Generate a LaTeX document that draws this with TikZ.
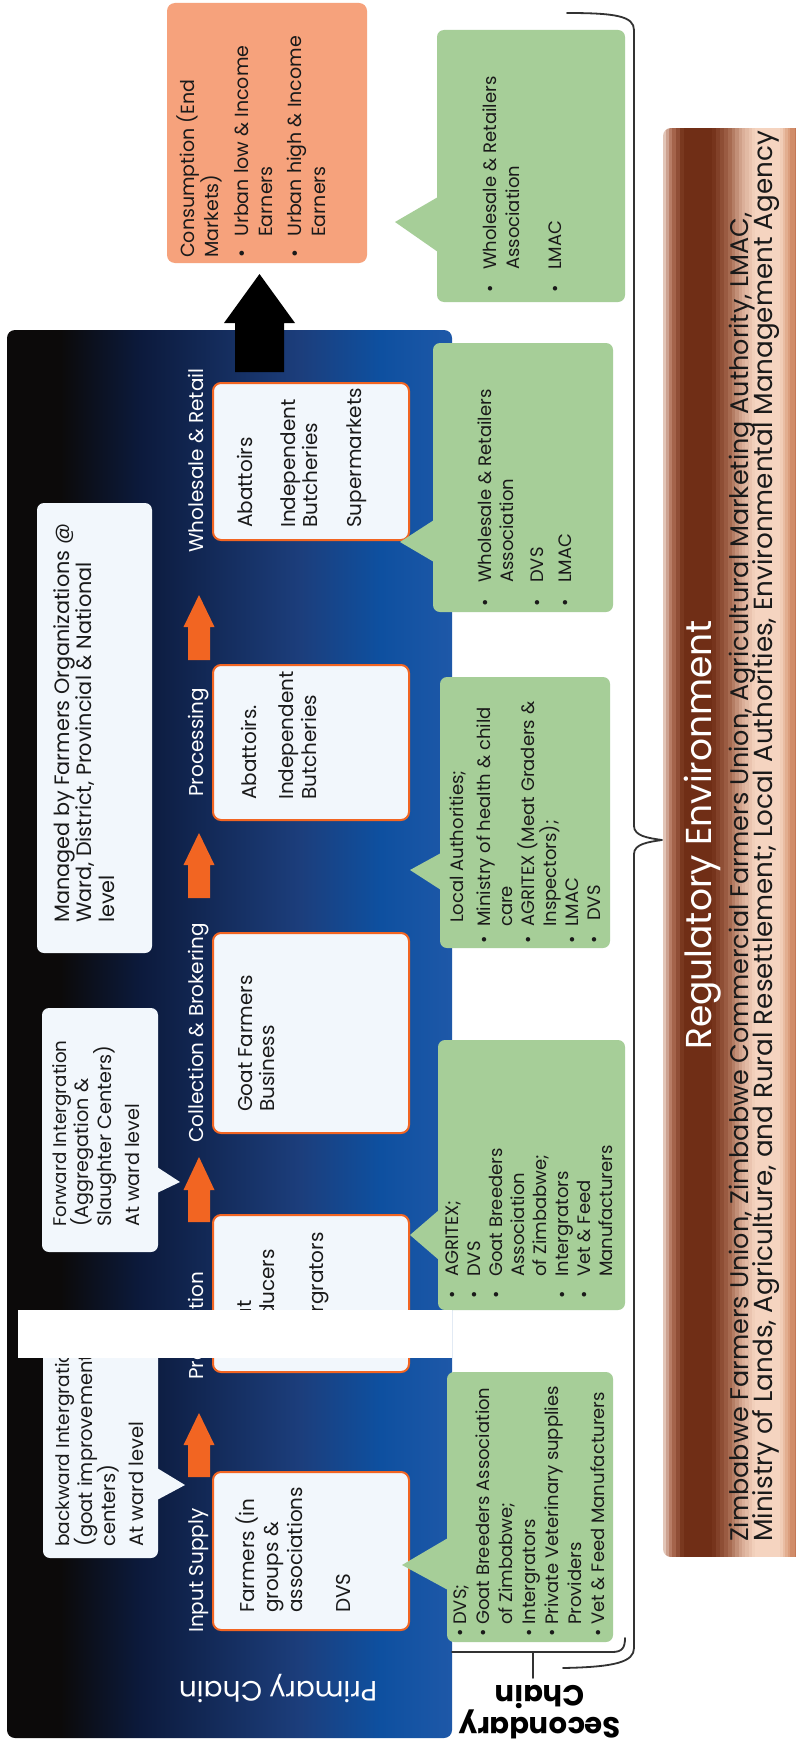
\documentclass[tikz,border=0pt]{standalone}
\usepackage{fontspec}
\setmainfont{Poppins}
\definecolor{salmonC}{RGB}{246,162,124}
\definecolor{greenC}{RGB}{166,206,152}
\definecolor{boxC}{RGB}{242,247,252}
\definecolor{orangeC}{RGB}{242,101,34}
\definecolor{inkC}{RGB}{26,26,26}
\definecolor{braceC}{RGB}{50,50,50}
\definecolor{bk}{RGB}{12,10,10}
\definecolor{bn}{RGB}{12,26,60}
\definecolor{bm}{RGB}{28,62,124}
\definecolor{bb}{RGB}{14,80,160}
\definecolor{be}{RGB}{30,88,168}
\definecolor{rA}{RGB}{235,212,200}
\definecolor{rB}{RGB}{175,110,85}
\definecolor{rC}{RGB}{112,46,22}
\definecolor{rE}{RGB}{160,98,72}
\definecolor{rF}{RGB}{215,170,148}
\definecolor{rG}{RGB}{245,212,192}
\definecolor{rI}{RGB}{215,150,115}
\definecolor{rJ}{RGB}{190,110,75}
\pgfdeclarehorizontalshading{bandshade}{100bp}{color(0bp)=(bk); color(25bp)=(bk); color(31bp)=(bk); color(40bp)=(bn); color(58bp)=(bm); color(67bp)=(bb); color(75bp)=(be); color(100bp)=(be)}
\newcommand{\fs}[2]{\fontsize{#1}{#2}\selectfont}
\newcommand{\tb}[1]{\vtop{\lineskiplimit=-1000pt\lineskip=0pt\halign{##\hfil\cr#1\crcr}}}
\newcommand{\gap}[1]{\noalign{\vskip #1pt}}
\newcommand{\bl}[1]{\makebox[#1pt][l]{\textbullet}}
\newcommand{\ind}[1]{\hspace*{#1pt}}
\begin{document}
\begin{tikzpicture}[x=1pt,y=-1pt,
  wbox/.style={draw=orangeC, line width=2pt, fill=boxC, rounded corners=8pt, inner sep=0pt, minimum width=196pt},
  gfill/.style={fill=greenC, rounded corners=7pt},
  wfill/.style={fill=boxC, rounded corners=7pt},
  tx/.style={rotate=90, anchor=base west, inner sep=0pt, text=inkC},
  stage/.style={rotate=90, anchor=base west, inner sep=0pt, text=white, font=\fs{20}{24}},
  brace/.style={draw=braceC, line width=1.8pt, line cap=round, line join=round}]
\useasboundingbox (0,0) rectangle (795,1742);
\fill[white] (0,0) rectangle (795,1742);

% regulatory bar: solid strips forming the copper gradient
\begin{scope}
\clip[rounded corners=8pt] (663,128) rectangle (810,1557);
\fill[rB!15!rA] (663,128) rectangle (666.4,1557);
\fill[rB!50!rA] (666,128) rectangle (669.4,1557);
\fill[rB!85!rA] (669,128) rectangle (672.4,1557);
\fill[rC!15!rB] (672,128) rectangle (676.4,1557);
\fill[rC!50!rB] (676,128) rectangle (680.4,1557);
\fill[rC!85!rB] (680,128) rectangle (684.4,1557);
\fill[rC] (684,128) rectangle (712.4,1557);
\fill[rE!12!rC] (712,128) rectangle (716.4,1557);
\fill[rE!37!rC] (716,128) rectangle (720.4,1557);
\fill[rE!62!rC] (720,128) rectangle (724.4,1557);
\fill[rE!87!rC] (724,128) rectangle (728.4,1557);
\fill[rF!12!rE] (728,128) rectangle (731.9,1557);
\fill[rF!37!rE] (731.5,128) rectangle (735.4,1557);
\fill[rF!62!rE] (735,128) rectangle (738.9,1557);
\fill[rF!87!rE] (738.5,128) rectangle (742.4,1557);
\fill[rG!12!rF] (742,128) rectangle (745.65,1557);
\fill[rG!37!rF] (745.25,128) rectangle (748.9,1557);
\fill[rG!62!rF] (748.5,128) rectangle (752.15,1557);
\fill[rG!87!rF] (751.75,128) rectangle (755.4,1557);
\fill[rG] (755,128) rectangle (780.4,1557);
\fill[rI!12!rG] (780,128) rectangle (782.9,1557);
\fill[rI!37!rG] (782.5,128) rectangle (785.4,1557);
\fill[rI!62!rG] (785,128) rectangle (787.9,1557);
\fill[rI!87!rG] (787.5,128) rectangle (790.4,1557);
\fill[rJ!25!rI] (790,128) rectangle (795.4,1557);
\fill[rJ!75!rI] (795,128) rectangle (810,1557);
\end{scope}
\node[rotate=90, anchor=base west, inner sep=0pt, text=white, font=\fs{36}{40}] (regt) at (711,1050) {Regulatory Environment};
\node[tx, font=\fs{25.5}{24}] (regl) at (748,1542) {\tb{Zimbabwe Farmers Union, Zimbabwe Commercial Farmers Union, Agricultural Marketing Authority, LMAC,\cr \fs{26.2}{24}Ministry of Lands, Agriculture, and Rural Resettlement; Local Authorities, Environmental Management Agency}};

% primary chain band
\shade[shading=bandshade, rounded corners=8pt] (7,330) rectangle (452,1738);

% consumption
\node[fill=salmonC, rounded corners=8pt, inner sep=0pt, minimum width=200pt, minimum height=260pt] (cons) at (267,133) {};
\node[tx, font=\fs{19}{24}] (tcons) at (194,258) {\tb{Consumption (End\cr Markets)\cr\gap{6}\bl{21}Urban low \& Income\cr\ind{21}Earners\cr\gap{5}\bl{21}Urban high \& Income\cr\ind{21}Earners}};
\fill[black] (235,372) -- (284,372) -- (284,323) -- (295,323) -- (259.5,274) -- (224,323) -- (235,323) -- cycle;

% stage boxes
\node[wbox, minimum height=157pt] (bWR) at (311,461.5) {};
\node[wbox, minimum height=155pt] (bPR) at (311,742.5) {};
\node[wbox, minimum height=200pt] (bCB) at (311,1033) {};
\node[wbox, minimum height=157pt] (bPD) at (311,1293.5) {};
\node[wbox, minimum height=158pt] (bIS) at (311,1551) {};

\node[tx, font=\fs{20}{22}] (tWR) at (252,528) {\tb{Abattoirs\cr\gap{21}Independent\cr Butcheries\cr\gap{22}Supermarkets}};
\node[tx, font=\fs{20}{23}] (tPR) at (256,800) {\tb{Abattoirs.\cr\gap{14}Independent\cr Butcheries}};
\node[tx, font=\fs{20}{22}] (tCB) at (252,1112) {\tb{Goat Farmers\cr Business}};
\node[tx, font=\fs{20}{23}] (tPD) at (251,1350) {\tb{Goat\cr Producers\cr\gap{26}Intergrators}};
\node[tx, font=\fs{20}{24}] (tIS) at (254,1613) {\tb{Farmers (in\cr groups \&\cr associations\cr\gap{24}DVS}};

% stage labels
\node[stage] (sWR) at (203,553) {Wholesale \& Retail};
\node[stage] (sPR) at (203,797) {Processing};
\node[stage] (sCB) at (203,1143) {Collection \& Brokering};
\node[stage] (sPD) at (203,1380) {Production};
\node[stage] (sIS) at (203,1633) {Input Supply};

% orange arrows
\foreach \b/\h/\t in {660/627/595, 898/865/833, 1222/1190/1157, 1477/1445/1413}
  \fill[orangeC] (188,\b) -- (210,\b) -- (210,\h) -- (214.5,\h) -- (199,\t) -- (183.5,\h) -- (188,\h) -- cycle;

% white callouts
\fill[wfill] (37,503) rectangle (152,953);
\node[tx, font=\fs{20.8}{22.5}] (tMG) at (69,923) {\tb{Managed by Farmers Organizations @\cr Ward, District, Provincial \& National\cr level}};
\fill[wfill] (42,1008) rectangle (158,1252);
\fill[boxC] (157,1167) -- (180,1182) -- (157,1193) -- cycle;
\node[tx, font=\fs{19.2}{22.5}] (tFW) at (66,1227) {\tb{\fs{18.3}{22.5}Forward Intergration\cr (Aggregation \&\cr Slaughter Centers)\cr\gap{6}At ward level}};
\fill[wfill] (43,1315) rectangle (158,1558);
\fill[boxC] (157,1468) -- (185,1485) -- (157,1500) -- cycle;
\node[tx, font=\fs{19.5}{23}] (tBW) at (69,1547) {\tb{\fs{18.6}{23}backward Intergration\cr (goat improvement\cr centers)\cr\gap{5}At ward level}};

% green callouts
\fill[gfill] (437,30) rectangle (625,302);
\fill[greenC] (438,197) -- (395,222) -- (438,252) -- cycle;
\node[tx, font=\fs{18}{23}] (gCO) at (496,293) {\tb{\bl{23}Wholesale \& Retailers\cr\ind{23}Association\cr\gap{19}\bl{23}LMAC}};

\fill[gfill] (433,343) rectangle (613,612);
\fill[greenC] (434,520) -- (400,542) -- (434,562) -- cycle;
\node[tx, font=\fs{18}{22}] (gWR) at (491,607) {\tb{\bl{24}Wholesale \& Retailers\cr\ind{24}Association\cr\gap{8}\bl{24}DVS\cr\gap{6}\bl{24}LMAC}};

\fill[gfill] (440,677) rectangle (610,948);
\fill[greenC] (441,853) -- (410,870) -- (441,890) -- cycle;
\node[tx, font=\fs{18}{22}] (gPR) at (463,944) {\tb{\ind{21}Local Authorities;\cr\gap{5}\bl{17}Ministry of health \& child\cr\ind{17}care\cr\bl{17}AGRITEX (Meat Graders \&\cr\ind{17}Inspectors);\cr\bl{17}LMAC\cr\bl{17}\ind{6}DVS}};

\fill[gfill] (438,1040) rectangle (625,1310);
\fill[greenC] (439,1210) -- (410,1235) -- (439,1260) -- cycle;
\node[tx, font=\fs{18}{22}] (gCB) at (458,1299) {\tb{\bl{22}AGRITEX;\cr\bl{22}DVS\cr\bl{22}Goat Breeders\cr\ind{22}Association\cr\ind{22}of Zimbabwe;\cr\bl{22}Intergrators\cr\bl{22}Vet \& Feed\cr\ind{22}Manufacturers}};

\fill[gfill] (447,1372) rectangle (613,1642);
\fill[greenC] (448,1538) -- (402,1565) -- (448,1590) -- cycle;
\node[tx, font=\fs{18}{23}] (gIS) at (466,1637) {\tb{\bl{12}DVS;\cr\bl{12}Goat Breeders Association\cr\ind{12}of Zimbabwe;\cr\bl{12}Intergrators\cr\bl{12}Private Veterinary supplies\cr\ind{12}Providers\cr\bl{12}Vet \& Feed Manufacturers}};

% redaction strip
\fill[white] (18,1310) rectangle (452,1358);

% labels
\node[rotate=180, text=white, font=\fs{28}{30}, inner sep=0pt] (pc) at (278,1689) {Primary Chain};
\node[rotate=180, text=black, font=\fs{29}{27}\bfseries, align=center, inner sep=0pt] (sc) at (540,1712) {Secondary\\Chain};

% braces
\draw[brace] (567,13) .. controls (615,13) and (634,16) .. (634,30) -- (634,826) .. controls (634,836) and (648,838) .. (662,840) .. controls (648,842) and (634,844) .. (634,854) -- (634,1648) .. controls (634,1662) and (615,1667) .. (563,1668);
\coordinate (stemtop) at (533,1652);
\coordinate (stembot) at (533,1678);
\draw[brace] (452,1652) -- (612,1652) .. controls (622,1652) and (625,1648) .. (625,1638);
\draw[brace] (stemtop) -- (stembot);
\end{tikzpicture}
\end{document}
